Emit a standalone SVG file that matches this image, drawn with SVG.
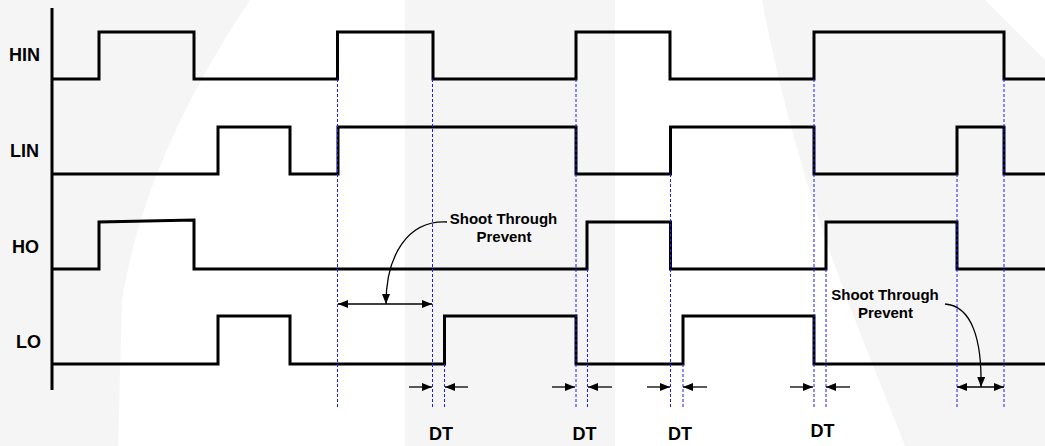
<svg xmlns="http://www.w3.org/2000/svg" width="1045" height="446" viewBox="0 0 1045 446">
  <style>
    .wm { fill: #f5f5f5; stroke: none; }
    .sig { fill: none; stroke: #000; stroke-width: 3; stroke-linejoin: miter; }
    .axis { fill: none; stroke: #000; stroke-width: 3; }
    .dash { fill: none; stroke: #1a1aff; stroke-width: 1; stroke-dasharray: 3 2; }
    .arr { fill: none; stroke: #000; stroke-width: 1.3; }
    .lbl { font-family: "Liberation Sans", Arial, sans-serif; font-weight: bold; font-size: 18px; fill: #000; }
    .note { font-family: "Liberation Sans", Arial, sans-serif; font-weight: bold; font-size: 15px; fill: #000; text-anchor: middle; }
  </style>
  <defs>
    <marker id="ah" viewBox="0 0 10 8" refX="10" refY="4" markerWidth="10" markerHeight="8" markerUnits="userSpaceOnUse" orient="auto-start-reverse">
      <path d="M0 0 L10 4 L0 8 Z" fill="#000"/>
    </marker>
  </defs>
  <rect width="1045" height="446" fill="#fff"/>
  <g id="watermark">
    <path class="wm" d="M0 0 H250 C190 90 140 190 122 300 L118 446 H0 Z"/>
    <rect class="wm" x="405" y="0" width="210" height="446"/>
    <path class="wm" d="M762 0 H985 L1045 60 V446 H905 C860 330 800 200 762 0 Z"/>
  </g>
  <g id="axis">
    <path class="axis" d="M52 8 V390"/>
  </g>
  <g id="HIN">
    <text class="lbl" x="40" y="61" text-anchor="end">HIN</text>
    <path class="sig" d="M52 79 H99 V32 H194 V79 H337.5 V32 H433 V79 H576 V32 H670 V79 H814 V32 H1004 V79 H1045"/>
  </g>
  <g id="LIN">
    <text class="lbl" x="39" y="157" text-anchor="end">LIN</text>
    <path class="sig" d="M52 174 H218 V127 H290 V174 H338 V127 H576 V174 H670.5 V127 H814 V174 H957 V127 H1004 V174 H1045"/>
  </g>
  <g id="HO">
    <text class="lbl" x="39" y="253" text-anchor="end">HO</text>
    <path class="sig" d="M52 269 H99 V222 L194 220 V269 H587 V222 H670.5 V269 H826 V222 H957 V269 H1045"/>
  </g>
  <g id="LO">
    <text class="lbl" x="41" y="348" text-anchor="end">LO</text>
    <path class="sig" d="M52 364 H218 V316 H290 V364 H444.5 V316 H576 V364 H683 V316 H814 V364 H1045"/>
  </g>
  <g id="connectors">
    <g id="guides">
      <path class="dash" d="M337.5 79 V409 M432.5 79 V409 M444.5 364 V409 M576 79 V409 M587.5 269 V409 M670.5 174 V409 M683 364 V409 M814 79 V409 M826 269 V409 M957 174 V409 M1004 79 V409"/>
    </g>
    <g id="dt-arrows">
      <path class="arr" marker-end="url(#ah)" d="M409 387 H432"/>
      <path class="arr" marker-end="url(#ah)" d="M468 387 H445"/>
      <path class="arr" marker-end="url(#ah)" d="M552 387 H575"/>
      <path class="arr" marker-end="url(#ah)" d="M612 387 H588"/>
      <path class="arr" marker-end="url(#ah)" d="M647 387 H670"/>
      <path class="arr" marker-end="url(#ah)" d="M707 387 H683"/>
      <path class="arr" marker-end="url(#ah)" d="M790 387 H813"/>
      <path class="arr" marker-end="url(#ah)" d="M850 387 H826"/>
    </g>
    <g id="shoot-through-1">
      <path class="arr" marker-start="url(#ah)" marker-end="url(#ah)" d="M338 304 H432"/>
      <path class="arr" marker-end="url(#ah)" d="M447 222 C408 220 386 255 386 304"/>
    </g>
    <g id="shoot-through-2">
      <path class="arr" marker-start="url(#ah)" marker-end="url(#ah)" d="M957 387 H1004"/>
      <path class="arr" marker-end="url(#ah)" d="M945 304 C972 306 982 340 981 387"/>
    </g>
  </g>
  <g id="labels">
    <text class="note" x="503.5" y="224">Shoot Through</text>
    <text class="note" x="504" y="241.5">Prevent</text>
    <text class="note" x="885" y="299.5">Shoot Through</text>
    <text class="note" x="885.5" y="317.5">Prevent</text>
    <text class="lbl" x="441" y="440" text-anchor="middle">DT</text>
    <text class="lbl" x="584.5" y="440" text-anchor="middle">DT</text>
    <text class="lbl" x="680" y="440" text-anchor="middle">DT</text>
    <text class="lbl" x="822.5" y="437" text-anchor="middle">DT</text>
  </g>
</svg>
